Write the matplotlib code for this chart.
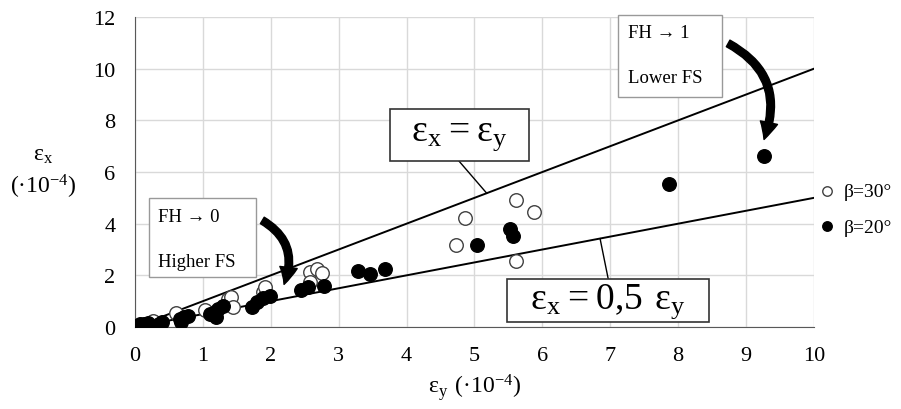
import matplotlib
matplotlib.use('Agg')
import matplotlib.pyplot as plt
from matplotlib.patches import Rectangle, FancyArrowPatch

plt.rcParams['font.family'] = ['Liberation Serif', 'DejaVu Serif']
plt.rcParams['mathtext.fontset'] = 'custom'
plt.rcParams['mathtext.rm'] = 'Liberation Serif'

# datos (eps_y, eps_x) en 1e-4
ey_30 = [0.27, 0.61, 1.03, 1.37, 1.42, 1.44, 1.89, 1.91, 2.58, 2.68, 2.76, 2.58,
         4.73, 4.86, 5.61, 5.87, 5.61]
ex_30 = [0.25, 0.54, 0.67, 1.08, 1.17, 0.79, 1.34, 1.56, 2.14, 2.25, 2.09, 1.73,
         3.17, 4.22, 4.92, 4.45, 2.57]

ey_20 = [0.02, 0.08, 0.14, 0.19, 0.36, 0.40, 0.66, 0.68, 0.72, 0.78, 1.10, 1.18,
         1.20, 1.23, 1.30, 1.72, 1.79, 1.89, 1.99, 2.45, 2.55, 2.78, 3.28, 3.46,
         3.68, 5.04, 5.52, 5.57, 7.86, 9.26]
ex_20 = [0.05, 0.10, 0.12, 0.15, 0.10, 0.18, 0.31, 0.18, 0.37, 0.41, 0.50, 0.57,
         0.37, 0.70, 0.80, 0.79, 0.96, 1.12, 1.21, 1.43, 1.56, 1.59, 2.18, 2.04,
         2.26, 3.17, 3.79, 3.51, 5.54, 6.61]

ref_x = [0, 10]
ref_slopes = [1.0, 0.5]
labels = ['β=30°', 'β=20°']

fig = plt.figure(figsize=(9.01, 4.10), dpi=100)
ax = fig.add_axes([0.1498, 0.2, 0.7536, 0.756])

# rectas de referencia
for m in ref_slopes:
    ax.plot(ref_x, [m * v for v in ref_x], color='black', lw=1.4, zorder=2)

ax.scatter(ey_30, ex_30, s=95, facecolor='white', edgecolor='#404040', lw=1.0,
           zorder=3, label=labels[0])
ax.scatter(ey_20, ex_20, s=95, facecolor='black', edgecolor='black', lw=1.0,
           zorder=4, label=labels[1])

ax.set_xlim(0, 10)
ax.set_ylim(0, 12)
ax.set_xticks(range(0, 11))
ax.set_yticks(range(0, 13, 2))
ax.grid(True, color='#d9d9d9', lw=1)
ax.set_axisbelow(True)
for s in ['top', 'right']:
    ax.spines[s].set_visible(False)
for s in ['left', 'bottom']:
    ax.spines[s].set_color('#595959')
ax.tick_params(axis='y', length=0, pad=14, labelsize=16)
ax.tick_params(axis='x', length=0, pad=14, labelsize=16)

ax.set_xlabel(r'$\mathregular{ε_y\ (·10^{-4})}$', fontsize=17, labelpad=4)
fig.text(0.048, 0.62, r'$\mathregular{ε_x}$', fontsize=17, ha='center', va='center')
fig.text(0.048, 0.545, r'$\mathregular{(·10^{-4})}$', fontsize=17, ha='center', va='center')

# cuadros con ecuaciones
def caja(x0, y0, x1, y1, ec, lw):
    ax.add_patch(Rectangle((x0, y0), x1 - x0, y1 - y0, facecolor='white',
                           edgecolor=ec, lw=lw, zorder=5, clip_on=False))

caja(3.76, 6.43, 5.80, 8.44, '#333333', 1.2)
ax.text(4.78, 7.43, r'$\mathregular{ε_x = ε_y}$', fontsize=27, ha='center',
        va='center', zorder=6)
ax.plot([4.77, 5.18], [6.43, 5.18], color='black', lw=1.0, zorder=2)

caja(5.48, 0.19, 8.45, 1.86, '#333333', 1.2)
ax.text(6.97, 1.02, r'$\mathregular{ε_x = 0{,}5\ ε_y}$', fontsize=27, ha='center',
        va='center', zorder=6)
ax.plot([6.85, 6.97], [3.42, 1.86], color='black', lw=1.0, zorder=2)

caja(0.21, 1.94, 1.78, 4.99, '#999999', 1.0)
ax.text(0.34, 4.26, 'FH → 0', fontsize=13.5, va='center', zorder=6)
ax.text(0.34, 2.52, 'Higher FS', fontsize=13.5, va='center', zorder=6)

caja(7.11, 8.90, 8.64, 12.08, '#999999', 1.0)
ax.text(7.26, 11.42, 'FH → 1', fontsize=13.5, va='center', zorder=6)
ax.text(7.26, 9.64, 'Lower FS', fontsize=13.5, va='center', zorder=6)

# flechas curvas
for (x0, y0), (x1, y1) in [((1.84, 4.18), (2.18, 1.55)), ((8.70, 11.03), (9.25, 7.16))]:
    ar = FancyArrowPatch((x0, y0), (x1, y1), connectionstyle='arc3,rad=-0.45',
                         arrowstyle='simple,head_length=0.7,head_width=0.7,tail_width=0.3',
                         mutation_scale=18, color='black', zorder=6, clip_on=False)
    ax.add_patch(ar)

leg = ax.legend(loc='center left', bbox_to_anchor=(1.0, 0.38), frameon=False,
                fontsize=14, borderaxespad=0, borderpad=0.2, handlelength=0.9,
                handletextpad=0.45, labelspacing=0.9, markerscale=0.7)

fig.savefig('out.png', dpi=100)
